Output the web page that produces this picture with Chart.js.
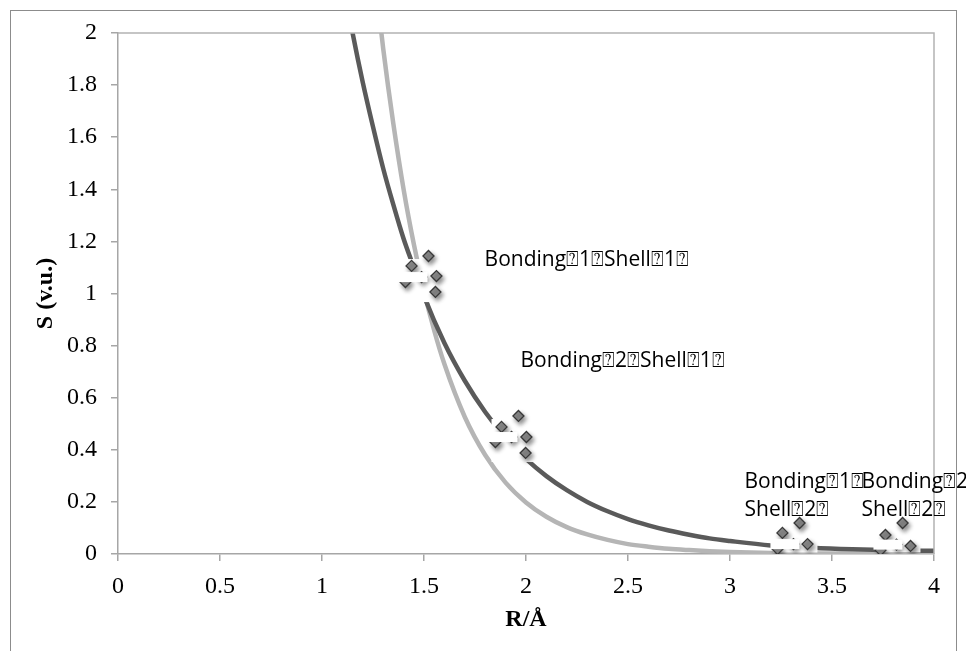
<!DOCTYPE html>
<html>
<head>
<meta charset="utf-8">
<script src="https://cdn.jsdelivr.net/npm/chart.js@4/dist/chart.umd.min.js"></script>
<style>
  html, body { margin: 0; padding: 0; background: #ffffff; }
  canvas { display: block; }
</style>
</head>
<body>
<canvas id="c" width="966" height="651"></canvas>
<script>
// ---- data ----
const darkR  = [1.10, 1.15, 1.20, 1.25, 1.30, 1.35, 1.40, 1.45, 1.50, 1.60, 1.70, 1.80, 1.90, 2.00, 2.10, 2.20, 2.30, 2.40, 2.50, 2.60, 2.70, 2.80, 2.90, 3.00, 3.20, 3.40, 3.60, 3.80, 4.00];
const darkS  = [2.21, 2.00, 1.81, 1.64, 1.48, 1.34, 1.21, 1.10, 0.99, 0.81, 0.665, 0.545, 0.446, 0.365, 0.299, 0.245, 0.200, 0.164, 0.134, 0.110, 0.090, 0.074, 0.060, 0.050, 0.033, 0.024, 0.018, 0.014, 0.012];

const lightR = [1.25, 1.30, 1.35, 1.40, 1.45, 1.50, 1.55, 1.60, 1.70, 1.80, 1.90, 2.00, 2.10, 2.20, 2.30, 2.40, 2.50, 2.60, 2.70, 2.80, 2.90, 3.00, 3.20, 3.50, 4.00];
const lightS = [2.28, 1.94, 1.65, 1.40, 1.19, 1.01, 0.858, 0.729, 0.526, 0.380, 0.274, 0.198, 0.143, 0.103, 0.075, 0.054, 0.038, 0.028, 0.020, 0.015, 0.011, 0.008, 0.004, 0.002, 0.001];

// diamond markers around each bonding/shell group
const siteR = [1.522, 1.439, 1.561, 1.409, 1.556,
               1.963, 1.880, 2.002, 1.850, 1.998,
               3.341, 3.257, 3.380, 3.233,
               3.846, 3.762, 3.885, 3.738];
const siteS = [1.144, 1.106, 1.067, 1.044, 1.006,
               0.530, 0.488, 0.449, 0.430, 0.388,
               0.119, 0.081, 0.038, 0.019,
               0.119, 0.073, 0.031, 0.015];

// group centre points
const centerR = [1.488, 1.929, 3.311, 3.816];
const centerS = [1.063, 0.449, 0.038, 0.036];

// group labels
const groupLabels = [
  ["Bonding\u23701\u2370Shell\u23701\u2370"],
  ["Bonding\u23702\u2370Shell\u23701\u2370"],
  ["Bonding\u23701\u2370", "Shell\u23702\u2370"],
  ["Bonding\u23702\u2370", "Shell\u23702\u2370"]
];

const xTicks = [0, 0.5, 1, 1.5, 2, 2.5, 3, 3.5, 4];
const yTicks = [0, 0.2, 0.4, 0.6, 0.8, 1, 1.2, 1.4, 1.6, 1.8, 2];

const xTitle = "R/\u00C5";
const yTitle = "S (v.u.)";

// ---- build datasets ----
const toPts = (xs, ys) => xs.map((v, i) => ({ x: v, y: ys[i] }));
const sitePts = toPts(siteR, siteS).concat(toPts(centerR, centerS));

const decor = {
  id: 'decor',
  beforeDraw(chart) {
    const ctx = chart.ctx;
    ctx.save();
    ctx.fillStyle = '#ffffff';
    ctx.fillRect(0, 0, chart.width, chart.height);
    ctx.strokeStyle = '#8c8c8c';
    ctx.lineWidth = 1;
    ctx.strokeRect(10.5, 10.5, 946, 700);
    ctx.restore();
  },
  beforeDatasetDraw(chart, args) {
    if (args.index !== 0) return;
    const { ctx, chartArea: a, scales: { x, y } } = chart;
    ctx.save();
    ctx.beginPath();
    ctx.rect(a.left + 1, a.top, a.right - a.left - 1, a.bottom - a.top - 1.5);
    ctx.clip();
    ctx.fillStyle = '#ffffff';
    centerR.forEach((r, i) => {
      const cx = x.getPixelForValue(r), cy = y.getPixelForValue(centerS[i]);
      ctx.fillRect(cx - 20, cy - 18, 44, 43);
    });
    ctx.restore();
    ctx.save();
    ctx.shadowColor = 'rgba(0,0,0,0.42)';
    ctx.shadowBlur = 4;
    ctx.shadowOffsetX = 2;
    ctx.shadowOffsetY = 3;
  },
  afterDatasetDraw(chart, args) {
    if (args.index !== 0) return;
    chart.ctx.restore();
  },
  afterDatasetsDraw(chart, args, opts) {
    const { ctx, chartArea: a, scales: { x, y } } = chart;
    // partial covers at the group centres
    ctx.save();
    ctx.fillStyle = '#ffffff';
    centerR.forEach((r, i) => {
      const cx = x.getPixelForValue(r), cy = y.getPixelForValue(centerS[i]);
      ctx.fillRect(cx - 23, cy - 5, 29, 10);
    });
    ctx.restore();
    // plot area top / right border
    ctx.save();
    ctx.strokeStyle = '#b3b3b3';
    ctx.lineWidth = 1.5;
    ctx.beginPath();
    ctx.moveTo(a.left, a.top);
    ctx.lineTo(a.right, a.top);
    ctx.lineTo(a.right, a.bottom);
    ctx.stroke();
    ctx.restore();
    // labels
    ctx.save();
    ctx.fillStyle = '#000000';
    ctx.font = '21px "Open Sans", "DejaVu Sans", sans-serif';
    ctx.textAlign = 'left';
    ctx.textBaseline = 'middle';
    opts.items.forEach((it, i) => {
      const px = x.getPixelForValue(it.r);
      const py = y.getPixelForValue(it.s);
      groupLabels[i].forEach((line, k) => {
        ctx.fillText(line, px, py + k * 28.5);
      });
    });
    ctx.restore();
  }
};

const gridStyle = {
  drawOnChartArea: false,
  drawTicks: true,
  tickLength: 7,
  color: '#a6a6a6',
  lineWidth: 1.5
};

new Chart(document.getElementById('c'), {
  type: 'scatter',
  data: {
    datasets: [
      {
        label: 'sites',
        data: sitePts,
        pointStyle: 'rectRot',
        pointRadius: 5.5,
        pointBackgroundColor: '#8e8e8e',
        pointBorderColor: '#383838',
        pointBorderWidth: 1.3,
        showLine: false
      },
      {
        label: 'curve 1',
        type: 'line',
        data: toPts(darkR, darkS),
        borderColor: '#5a5a5a',
        borderWidth: 4.5,
        pointRadius: 0,
        fill: false,
        showLine: true,
        cubicInterpolationMode: 'monotone'
      },
      {
        label: 'curve 2',
        type: 'line',
        data: toPts(lightR, lightS),
        borderColor: '#b5b5b5',
        borderWidth: 4.5,
        pointRadius: 0,
        fill: false,
        showLine: true,
        cubicInterpolationMode: 'monotone'
      }
    ]
  },
  options: {
    responsive: false,
    animation: false,
    devicePixelRatio: 1,
    events: [],
    layout: { padding: { top: 33, right: 32, bottom: 0, left: 0 } },
    plugins: {
      legend: { display: false },
      tooltip: { enabled: false },
      decor: {
        items: [
          { r: 1.797, s: 1.129 },
          { r: 1.973, s: 0.741 },
          { r: 3.071, s: 0.278 },
          { r: 3.645, s: 0.278 }
        ]
      }
    },
    scales: {
      x: {
        type: 'linear',
        min: 0, max: 4,
        afterFit(s) { s.height = 97; },
        afterBuildTicks(s) { s.ticks = xTicks.map(v => ({ value: v })); },
        ticks: {
          padding: 11,
          color: '#000000',
          font: { family: '"Liberation Serif", "Times New Roman", serif', size: 24 },
          callback: v => String(v),
          maxRotation: 0,
          autoSkip: false
        },
        grid: gridStyle,
        border: { display: true, color: '#a6a6a6', width: 1.5 },
        title: {
          display: true,
          text: xTitle,
          color: '#000000',
          font: { family: '"Liberation Serif", "Times New Roman", serif', size: 24, weight: 'bold' },
          padding: { top: 0, bottom: 17 }
        }
      },
      y: {
        type: 'linear',
        min: 0, max: 2,
        afterFit(s) { s.width = 118; },
        afterBuildTicks(s) { s.ticks = yTicks.map(v => ({ value: v })); },
        ticks: {
          padding: 14,
          color: '#000000',
          font: { family: '"Liberation Serif", "Times New Roman", serif', size: 24 },
          callback: v => String(Math.round(v * 10) / 10),
          autoSkip: false
        },
        grid: gridStyle,
        border: { display: true, color: '#a6a6a6', width: 1.5 },
        title: {
          display: true,
          text: yTitle,
          color: '#000000',
          font: { family: '"Liberation Serif", "Times New Roman", serif', size: 24, weight: 'bold' },
          padding: { top: 31, bottom: 0 }
        }
      }
    }
  },
  plugins: [decor]
});
</script>
</body>
</html>
